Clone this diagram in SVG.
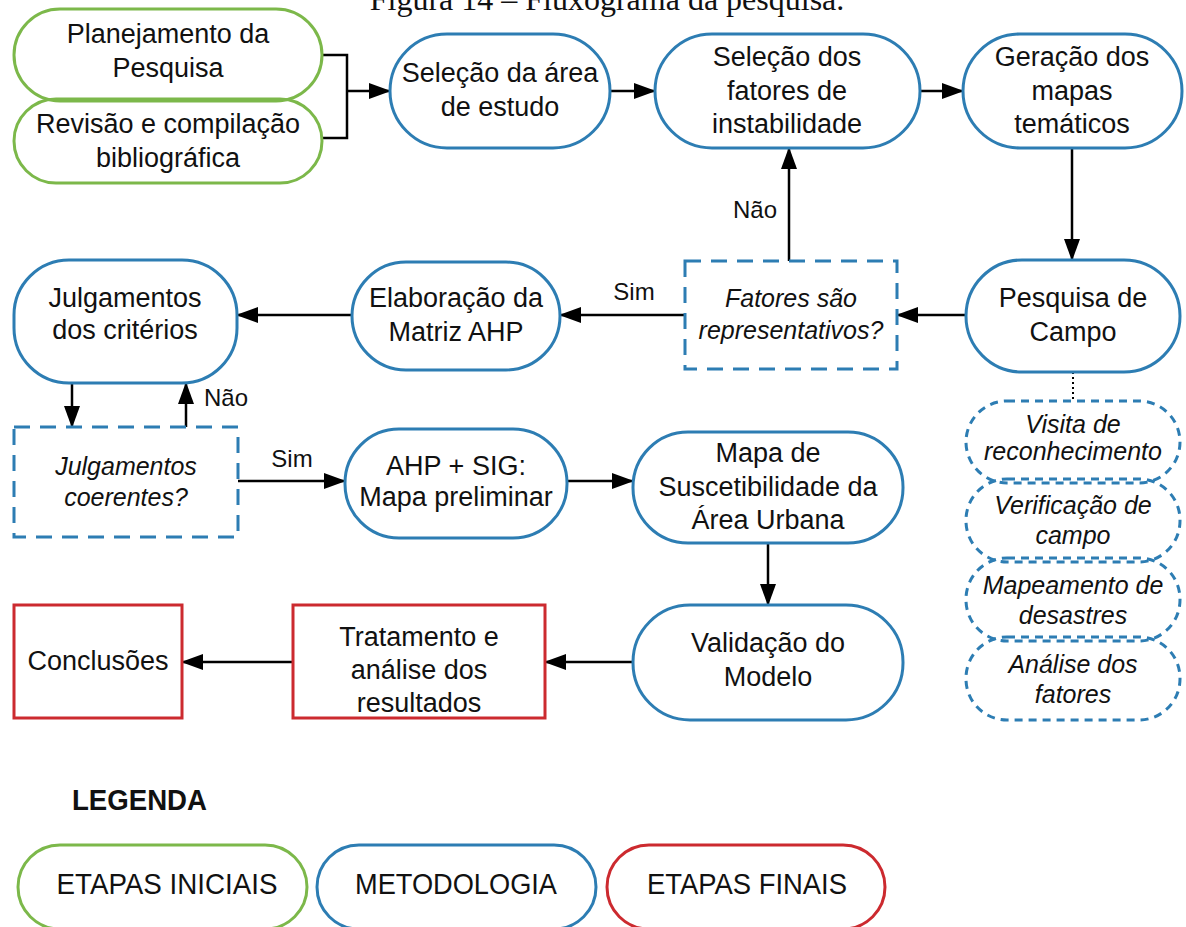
<svg xmlns="http://www.w3.org/2000/svg" width="1186" height="927" viewBox="0 0 1186 927">
<defs>
<style>
.g{fill:#fff;stroke:#7cb84a;stroke-width:3}
.b{fill:#fff;stroke:#2d7db3;stroke-width:3}
.r{fill:#fff;stroke:#cc2a2f;stroke-width:3}
.bd{fill:#fff;stroke:#2d7db3;stroke-width:3;stroke-dasharray:16 10}
.bs{fill:#fff;stroke:#2d7db3;stroke-width:3;stroke-dasharray:8 6}
.t{font-family:"Liberation Sans",Arial,sans-serif;font-size:27px;fill:#111;text-anchor:middle}
.ti{font-family:"Liberation Sans",Arial,sans-serif;font-size:25px;font-style:italic;fill:#111;text-anchor:middle}
.lb{font-family:"Liberation Sans",Arial,sans-serif;font-size:24px;fill:#111;text-anchor:middle}
.lg{font-family:"Liberation Sans",Arial,sans-serif;font-size:29px;fill:#111;text-anchor:middle}
.c{fill:none;stroke:#000;stroke-width:2.5}
</style>
<marker id="ah" markerUnits="userSpaceOnUse" markerWidth="22" markerHeight="16" refX="21" refY="8" orient="auto">
<path d="M0,0 L22,8 L0,16 z" fill="#000"/>
</marker>
</defs>
<rect width="1186" height="927" fill="#fff"/>
<text x="607" y="10" font-family="Liberation Serif,serif" font-size="32" text-anchor="middle" fill="#111">Figura 14 – Fluxograma da pesquisa.</text>

<g id="connectors">
<path class="c" d="M322,55 H347 V138 H322"/>
<line class="c" x1="347" y1="91" x2="390" y2="91" marker-end="url(#ah)"/>
<line class="c" x1="610" y1="91" x2="655" y2="91" marker-end="url(#ah)"/>
<line class="c" x1="920" y1="91" x2="963" y2="91" marker-end="url(#ah)"/>
<line class="c" x1="1072" y1="148" x2="1072" y2="260" marker-end="url(#ah)"/>
<line class="c" x1="966" y1="315" x2="897" y2="315" marker-end="url(#ah)"/>
<line class="c" x1="789" y1="261" x2="789" y2="148" marker-end="url(#ah)"/>
<line class="c" x1="685" y1="315" x2="560" y2="315" marker-end="url(#ah)"/>
<line class="c" x1="352" y1="315" x2="237" y2="315" marker-end="url(#ah)"/>
<line class="c" x1="72" y1="383" x2="72" y2="427" marker-end="url(#ah)"/>
<line class="c" x1="186" y1="427" x2="186" y2="383" marker-end="url(#ah)"/>
<line class="c" x1="238" y1="481" x2="345" y2="481" marker-end="url(#ah)"/>
<line class="c" x1="567" y1="481" x2="633" y2="481" marker-end="url(#ah)"/>
<line class="c" x1="768" y1="543" x2="768" y2="605" marker-end="url(#ah)"/>
<line class="c" x1="633" y1="662" x2="545" y2="662" marker-end="url(#ah)"/>
<line class="c" x1="293" y1="662" x2="182" y2="662" marker-end="url(#ah)"/>
<line x1="1073" y1="372" x2="1073" y2="401" stroke="#000" stroke-width="2" stroke-dasharray="2 3"/>
<text class="lb" x="755" y="218">Não</text>
<text class="lb" x="634" y="300">Sim</text>
<text class="lb" x="226" y="406">Não</text>
<text class="lb" x="292" y="467">Sim</text>
</g>

<g id="n-planejamento">
<rect x="14" y="9" width="308" height="92" rx="46" class="g" style="fill:none"/>
<text class="t" x="168" y="43">Planejamento da</text>
<text class="t" x="168" y="77">Pesquisa</text>
</g>
<g id="n-revisao">
<rect x="14" y="99" width="308" height="84" rx="42" class="g" style="fill:none"/>
<text class="t" x="168" y="133">Revisão e compilação</text>
<text class="t" x="168" y="167">bibliográfica</text>
</g>
<g id="n-selecao-area">
<rect x="390" y="34" width="220" height="114" rx="57" class="b"/>
<text class="t" x="500" y="82">Seleção da área</text>
<text class="t" x="500" y="116">de estudo</text>
</g>
<g id="n-selecao-fatores">
<rect x="655" y="34" width="265" height="114" rx="57" class="b"/>
<text class="t" x="787" y="66">Seleção dos</text>
<text class="t" x="787" y="100">fatores de</text>
<text class="t" x="787" y="133">instabilidade</text>
</g>
<g id="n-geracao">
<rect x="963" y="34" width="219" height="114" rx="57" class="b"/>
<text class="t" x="1072" y="66">Geração dos</text>
<text class="t" x="1072" y="100">mapas</text>
<text class="t" x="1072" y="133">temáticos</text>
</g>
<g id="n-pesquisa-campo">
<rect x="966" y="260" width="214" height="112" rx="56" class="b"/>
<text class="t" x="1073" y="307">Pesquisa de</text>
<text class="t" x="1073" y="341">Campo</text>
</g>
<g id="n-fatores">
<rect x="685" y="261" width="212" height="108" class="bd"/>
<text class="ti" x="791" y="307">Fatores são</text>
<text class="ti" x="791" y="339">representativos?</text>
</g>
<g id="n-elaboracao">
<rect x="352" y="262" width="208" height="108" rx="54" class="b"/>
<text class="t" x="456" y="307">Elaboração da</text>
<text class="t" x="456" y="341">Matriz AHP</text>
</g>
<g id="n-julgamentos">
<rect x="14" y="260" width="223" height="123" rx="55" class="b"/>
<text class="t" x="125" y="307">Julgamentos</text>
<text class="t" x="125" y="339">dos critérios</text>
</g>
<g id="n-coerentes">
<rect x="14" y="427" width="224" height="110" class="bd"/>
<text class="ti" x="126" y="475">Julgamentos</text>
<text class="ti" x="126" y="506">coerentes?</text>
</g>
<g id="n-ahp-sig">
<rect x="345" y="429" width="222" height="109" rx="54" class="b"/>
<text class="t" x="456" y="475">AHP + SIG:</text>
<text class="t" x="456" y="506">Mapa preliminar</text>
</g>
<g id="n-mapa">
<rect x="633" y="432" width="270" height="111" rx="55" class="b"/>
<text class="t" x="768" y="462">Mapa de</text>
<text class="t" x="768" y="496">Suscetibilidade da</text>
<text class="t" x="768" y="529">Área Urbana</text>
</g>
<g id="n-validacao">
<rect x="633" y="605" width="270" height="115" rx="57" class="b"/>
<text class="t" x="768" y="652">Validação do</text>
<text class="t" x="768" y="686">Modelo</text>
</g>
<g id="n-tratamento">
<rect x="293" y="605" width="252" height="113" class="r"/>
<text class="t" x="419" y="646">Tratamento e</text>
<text class="t" x="419" y="679">análise dos</text>
<text class="t" x="419" y="712">resultados</text>
</g>
<g id="n-conclusoes">
<rect x="14" y="605" width="168" height="113" class="r"/>
<text class="t" x="98" y="670">Conclusões</text>
</g>
<g id="n-visita">
<rect x="966" y="401" width="214" height="82" rx="41" class="bs" style="fill:none"/>
<text class="ti" x="1073" y="433">Visita de</text>
<text class="ti" x="1073" y="460">reconhecimento</text>
</g>
<g id="n-verificacao">
<rect x="966" y="479" width="214" height="83" rx="41" class="bs" style="fill:none"/>
<text class="ti" x="1073" y="514">Verificação de</text>
<text class="ti" x="1073" y="544">campo</text>
</g>
<g id="n-mapeamento">
<rect x="966" y="558" width="214" height="83" rx="41" class="bs" style="fill:none"/>
<text class="ti" x="1073" y="594">Mapeamento de</text>
<text class="ti" x="1073" y="624">desastres</text>
</g>
<g id="n-analise">
<rect x="966" y="637" width="214" height="83" rx="41" class="bs" style="fill:none"/>
<text class="ti" x="1073" y="673">Análise dos</text>
<text class="ti" x="1073" y="703">fatores</text>
</g>

<g id="legend">
<text x="72" y="810" font-family="Liberation Sans,Arial,sans-serif" font-size="29" font-weight="bold" fill="#111" textLength="135" lengthAdjust="spacingAndGlyphs">LEGENDA</text>
<rect x="18" y="845" width="289" height="84" rx="42" class="g"/>
<text class="lg" x="167" y="894" textLength="221" lengthAdjust="spacingAndGlyphs">ETAPAS INICIAIS</text>
<rect x="317" y="845" width="279" height="84" rx="42" class="b"/>
<text class="lg" x="456" y="894" textLength="202" lengthAdjust="spacingAndGlyphs">METODOLOGIA</text>
<rect x="607" y="845" width="278" height="84" rx="42" class="r"/>
<text class="lg" x="747" y="894" textLength="200" lengthAdjust="spacingAndGlyphs">ETAPAS FINAIS</text>
</g>
</svg>
